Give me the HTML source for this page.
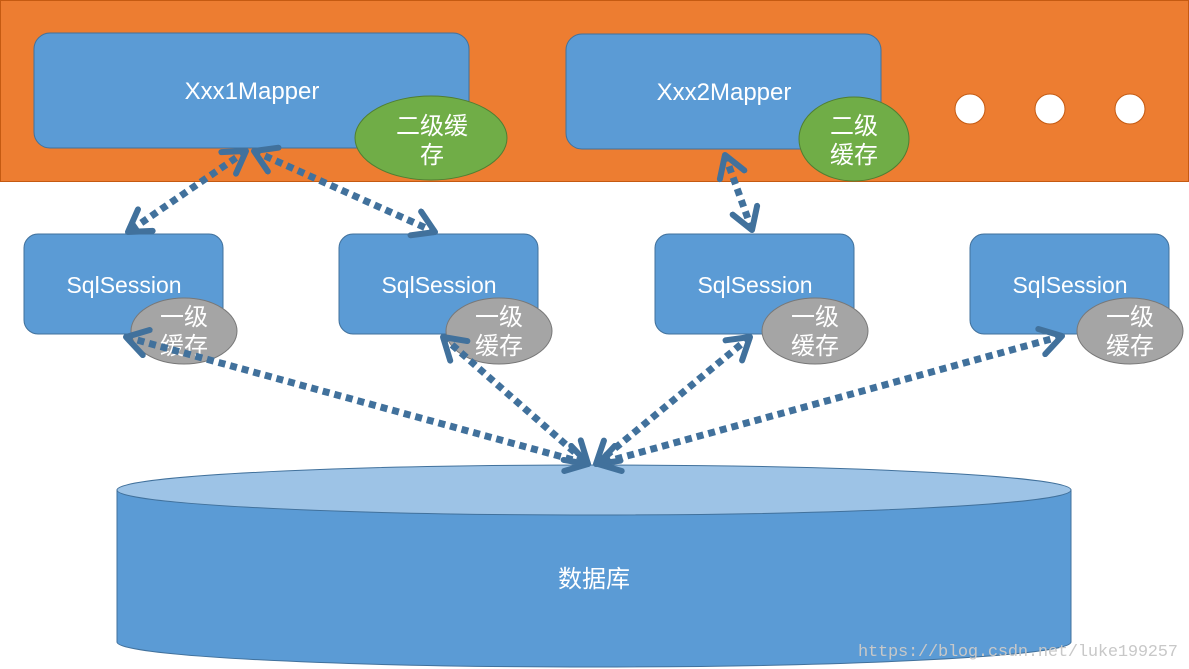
<!DOCTYPE html>
<html><head><meta charset="utf-8"><style>
html,body{margin:0;padding:0;background:#fff}
svg{display:block}
text{font-family:"Liberation Sans","Noto Sans CJK SC",sans-serif;fill:#fff}
</style></head><body>
<svg width="1189" height="669" viewBox="0 0 1189 669" xmlns="http://www.w3.org/2000/svg">
<defs>
<marker id="ah" viewBox="-24 -16 28 32" markerWidth="28" markerHeight="32" refX="0" refY="0" orient="auto-start-reverse" markerUnits="userSpaceOnUse">
<polyline points="-21,-13 0,0 -21,13" fill="none" stroke="#41719C" stroke-width="6" stroke-linecap="round" stroke-linejoin="round"/>
</marker>
</defs>
<rect x="0.5" y="0.5" width="1188" height="181" fill="#ED7D31" stroke="#C55A11"/>
<rect x="34" y="33" width="435" height="115" rx="16" fill="#5B9BD5" stroke="#41719C"/>
<text x="252" y="99" font-size="24" text-anchor="middle">Xxx1Mapper</text>
<ellipse cx="431" cy="138" rx="76" ry="42" fill="#70AD47" stroke="#507E32"/>
<text x="432" y="134" font-size="24" text-anchor="middle">二级缓</text>
<text x="432" y="163" font-size="24" text-anchor="middle">存</text>
<rect x="566" y="34" width="315" height="115" rx="16" fill="#5B9BD5" stroke="#41719C"/>
<text x="724" y="100" font-size="24" text-anchor="middle">Xxx2Mapper</text>
<ellipse cx="854" cy="139" rx="55" ry="42" fill="#70AD47" stroke="#507E32"/>
<text x="854" y="134" font-size="24" text-anchor="middle">二级</text>
<text x="854" y="163" font-size="24" text-anchor="middle">缓存</text>
<circle cx="970" cy="109" r="15" fill="#fff" stroke="#C55A11"/>
<circle cx="1050" cy="109" r="15" fill="#fff" stroke="#C55A11"/>
<circle cx="1130" cy="109" r="15" fill="#fff" stroke="#C55A11"/>

<g id="s1">
<rect x="24" y="234" width="199" height="100" rx="14" fill="#5B9BD5" stroke="#41719C"/>
<text x="124" y="293" font-size="23" text-anchor="middle">SqlSession</text>
<ellipse cx="184" cy="331" rx="53" ry="33" fill="#A5A5A5" stroke="#787878"/>
<text x="184" y="325" font-size="24" text-anchor="middle">一级</text>
<text x="184" y="354" font-size="24" text-anchor="middle">缓存</text>
</g>
<g transform="translate(315,0)">
<rect x="24" y="234" width="199" height="100" rx="14" fill="#5B9BD5" stroke="#41719C"/>
<text x="124" y="293" font-size="23" text-anchor="middle">SqlSession</text>
<ellipse cx="184" cy="331" rx="53" ry="33" fill="#A5A5A5" stroke="#787878"/>
<text x="184" y="325" font-size="24" text-anchor="middle">一级</text>
<text x="184" y="354" font-size="24" text-anchor="middle">缓存</text>
</g>
<g transform="translate(631,0)">
<rect x="24" y="234" width="199" height="100" rx="14" fill="#5B9BD5" stroke="#41719C"/>
<text x="124" y="293" font-size="23" text-anchor="middle">SqlSession</text>
<ellipse cx="184" cy="331" rx="53" ry="33" fill="#A5A5A5" stroke="#787878"/>
<text x="184" y="325" font-size="24" text-anchor="middle">一级</text>
<text x="184" y="354" font-size="24" text-anchor="middle">缓存</text>
</g>
<g transform="translate(946,0)">
<rect x="24" y="234" width="199" height="100" rx="14" fill="#5B9BD5" stroke="#41719C"/>
<text x="124" y="293" font-size="23" text-anchor="middle">SqlSession</text>
<ellipse cx="184" cy="331" rx="53" ry="33" fill="#A5A5A5" stroke="#787878"/>
<text x="184" y="325" font-size="24" text-anchor="middle">一级</text>
<text x="184" y="354" font-size="24" text-anchor="middle">缓存</text>
</g>

<path d="M117,490 L117,642 A477,25 0 0 0 1071,642 L1071,490 Z" fill="#5B9BD5" stroke="#41719C"/>
<ellipse cx="594" cy="490" rx="477" ry="25" fill="#9DC3E6" stroke="#41719C"/>
<text x="594" y="587" font-size="24" text-anchor="middle">数据库</text>

<g stroke="#41719C" stroke-width="7" stroke-dasharray="7 5" fill="none" marker-start="url(#ah)" marker-end="url(#ah)">
<line x1="246" y1="151" x2="128" y2="232"/>
<line x1="254" y1="151" x2="435" y2="232"/>
<line x1="725" y1="155" x2="752" y2="230"/>
<line x1="126" y1="337" x2="588" y2="464"/>
<line x1="443" y1="337" x2="588" y2="464"/>
<line x1="750" y1="337" x2="596" y2="464"/>
<line x1="1062" y1="336" x2="598" y2="464"/>
</g>
<text x="1018" y="656" font-size="17" text-anchor="middle" style="fill:#c8c8c8;font-family:'Liberation Mono',monospace" textLength="320">https://blog.csdn.net/luke199257</text>
</svg>
</body></html>
